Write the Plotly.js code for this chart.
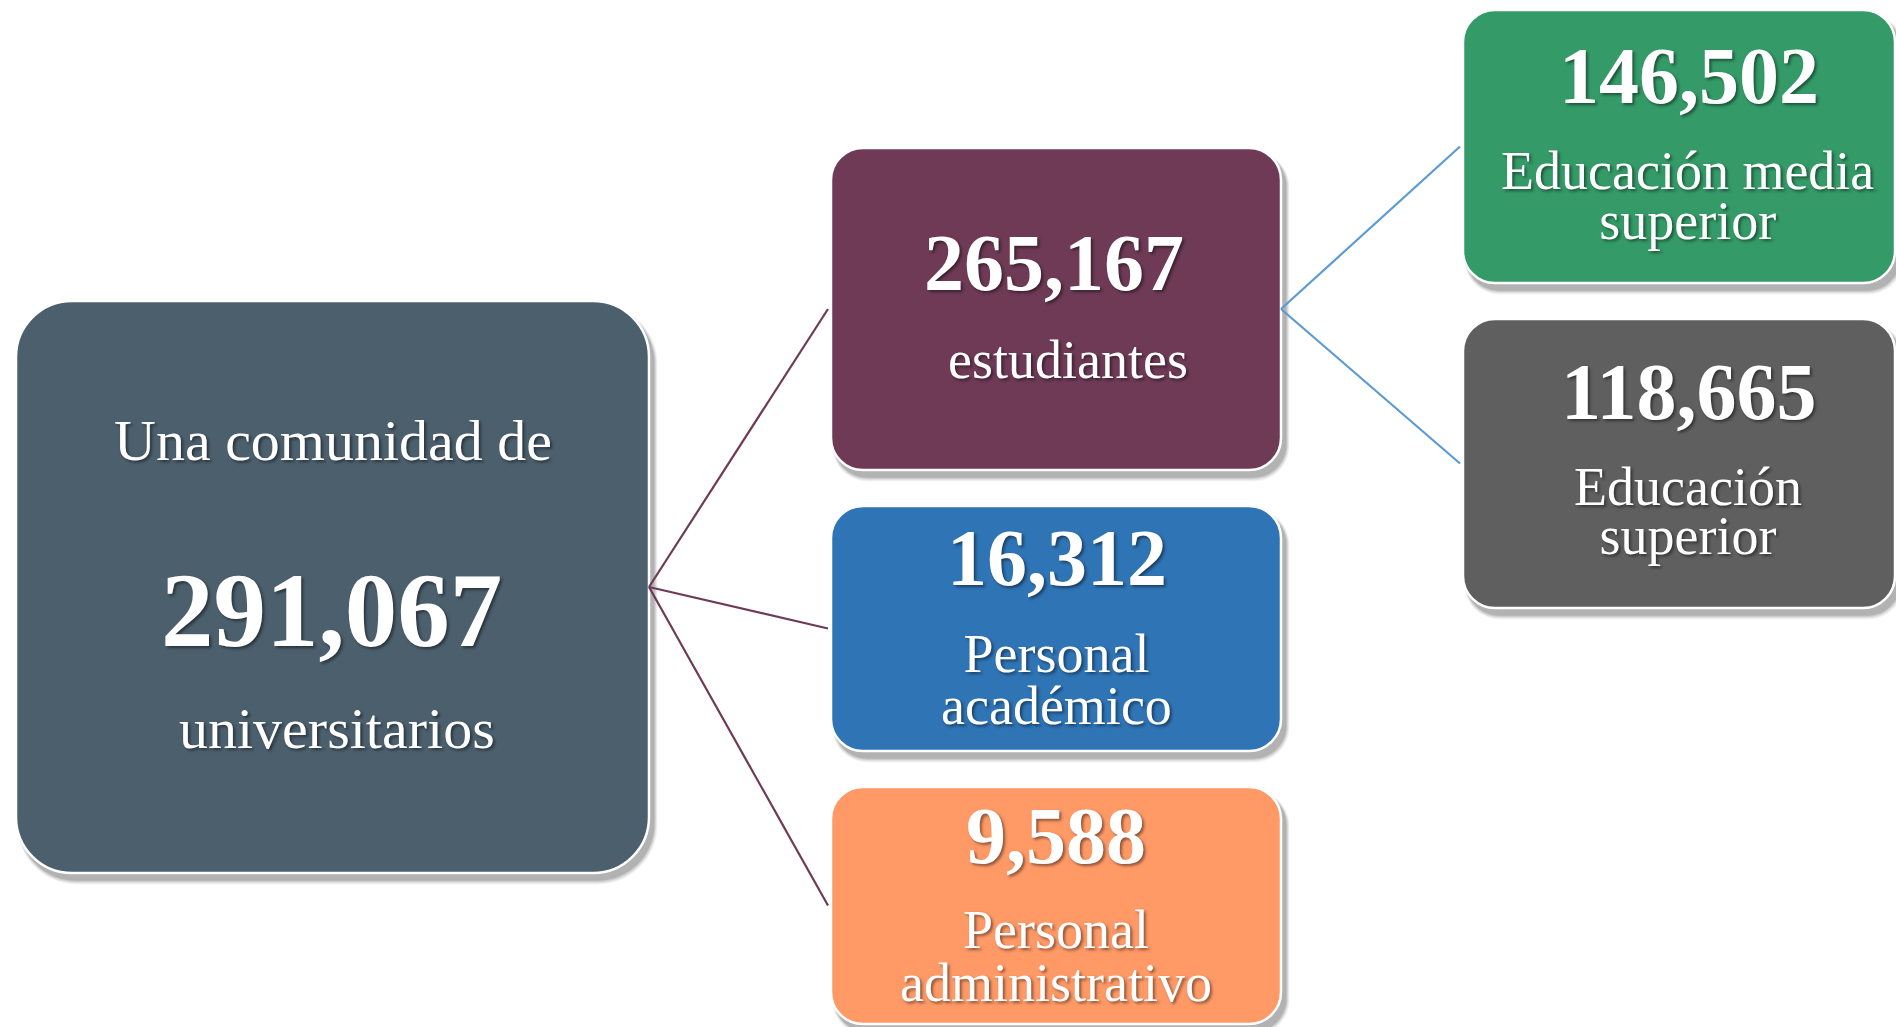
<!DOCTYPE html>
<html>
<head>
<meta charset="utf-8">
<script src="https://cdn.plot.ly/plotly-3.0.1.min.js"></script>
<style>
  html, body { margin: 0; padding: 0; background: #ffffff; }
  #chart { width: 1896px; height: 1027px; }
</style>
</head>
<body>
<div id="chart"></div>
<script>
// ---------------- DATA ----------------
const nodeIds     = ["total", "estudiantes", "academico", "administrativo", "media", "superior"];
const nodeValues  = [291067, 265167, 16312, 9588, 146502, 118665];
const nodeHeaders = [["Una comunidad de"], [], [], [], [], []];
const nodeLabels  = [["universitarios"], ["estudiantes"], ["Personal", "académico"],
                     ["Personal", "administrativo"], ["Educación media", "superior"], ["Educación", "superior"]];
const edgeParents = ["total", "total", "total", "estudiantes", "estudiantes"];
const edgeChildren = ["estudiantes", "academico", "administrativo", "media", "superior"];

// ---------------- LAYOUT / STYLE ----------------
const W = 1896, H = 1027;
const FONT = "Liberation Serif, Times New Roman, serif";
const ASC = 0.891;   // font ascent (em)
const boxGeom = {
  total:          {x0: 16,   y0: 301, x1: 649,  y1: 873, r: 56, fill: "#4B5F6D"},
  estudiantes:    {x0: 831,  y0: 148, x1: 1281, y1: 470, r: 32, fill: "#6E3A56"},
  academico:      {x0: 831,  y0: 506, x1: 1281, y1: 751, r: 32, fill: "#2F74B5"},
  administrativo: {x0: 831,  y0: 787, x1: 1281, y1: 1024, r: 32, fill: "#FF9966"},
  media:          {x0: 1463, y0: 10,  x1: 1895, y1: 283, r: 32, fill: "#349A67"},
  superior:       {x0: 1463, y0: 319, x1: 1895, y1: 608, r: 32, fill: "#5F5F5F"}
};
// text placement: header/value = [center x, baseline y, font size];
// label = [center x, first baseline y, font size, line gap]
const textGeom = {
  total:          {header: [[333, 459, 58]], value: [331, 644, 105], label: [337, 747, 58, 0]},
  estudiantes:    {header: [], value: [1054, 289, 80], label: [1068, 377, 54, 0]},
  academico:      {header: [], value: [1057, 584, 80], label: [1056, 671, 54, 52]},
  administrativo: {header: [], value: [1056, 862, 80], label: [1056, 947, 54, 53]},
  media:          {header: [], value: [1689, 102, 80], label: [1687, 188, 54, 50]},
  superior:       {header: [], value: [1689, 418, 80], label: [1688, 504, 54, 49]}
};
const edgeColor = {total: "#6E3A56", estudiantes: "#5B9BD5"};
const TEXT_SHADOW = "2px 2px 3px rgba(0,0,0,0.45)";

function roundRect(x0, y0, x1, y1, r) {
  const k = 0.5523 * r;
  return `M${x0 + r},${y0} L${x1 - r},${y0} C${x1 - r + k},${y0} ${x1},${y0 + r - k} ${x1},${y0 + r} ` +
         `L${x1},${y1 - r} C${x1},${y1 - r + k} ${x1 - r + k},${y1} ${x1 - r},${y1} ` +
         `L${x0 + r},${y1} C${x0 + r - k},${y1} ${x0},${y1 - r + k} ${x0},${y1 - r} ` +
         `L${x0},${y0 + r} C${x0},${y0 + r - k} ${x0 + r - k},${y0} ${x0 + r},${y0} Z`;
}

const shapes = [];
const annotations = [];

nodeIds.forEach((id, i) => {
  const g = boxGeom[id];
  // soft drop shadow (layered)
  const layers = [[9, 0.05], [7, 0.07], [5, 0.09], [3, 0.12]];
  layers.forEach(([grow, op]) => {
    shapes.push({
      type: "path", xref: "x", yref: "y", layer: "below",
      path: roundRect(g.x0 + 4 - grow * 0.3, g.y0 + 6 - grow * 0.3, g.x1 + 4 + grow * 0.5, g.y1 + 6 + grow * 0.6, g.r + grow * 0.4),
      fillcolor: "rgba(0,0,0," + op + ")", line: {width: 0}
    });
  });
  shapes.push({
    type: "path", xref: "x", yref: "y", layer: "below",
    path: roundRect(g.x0, g.y0, g.x1, g.y1, g.r),
    fillcolor: g.fill, line: {color: "#ffffff", width: 2.5}
  });

  const t = textGeom[id];
  const addLine = (txt, cx, base, size, bold) => {
    annotations.push({
      xref: "x", yref: "y", x: cx, y: base - 0.32 * size,
      xanchor: "center", yanchor: "middle", showarrow: false,
      text: bold ? "<b>" + txt + "</b>" : txt,
      font: {family: FONT, size: size, color: "#ffffff", shadow: TEXT_SHADOW}
    });
  };
  nodeHeaders[i].forEach((txt, j) => addLine(txt, t.header[j][0], t.header[j][1], t.header[j][2], false));
  addLine(nodeValues[i].toLocaleString("en-US"), t.value[0], t.value[1], t.value[2], true);

  const [lx, lb, ls, gap] = t.label;
  if (nodeLabels[i].length === 1) {
    addLine(nodeLabels[i][0], lx, lb, ls, false);
  } else {
    // one text block; the base size sets the (tight) line pitch, the spans set the glyph size
    const baseSize = gap / 1.3;
    annotations.push({
      xref: "x", yref: "y", x: lx, y: lb - ASC * ls - 1,
      xanchor: "center", yanchor: "top", align: "center", showarrow: false,
      text: nodeLabels[i].map(s => `<span style="font-size:${ls}px">${s}</span>`).join("<br>"),
      font: {family: FONT, size: baseSize, color: "#ffffff", shadow: TEXT_SHADOW}
    });
  }
});

// connector lines: parent right-middle -> child left-middle
const traces = edgeParents.map((p, i) => {
  const a = boxGeom[p], b = boxGeom[edgeChildren[i]];
  return {
    type: "scatter", mode: "lines", hoverinfo: "skip", showlegend: false,
    x: [a.x1, b.x0 - 3],
    y: [(a.y0 + a.y1) / 2, (b.y0 + b.y1) / 2],
    line: {color: edgeColor[p], width: 2.2}
  };
});

const layout = {
  width: W, height: H,
  margin: {l: 0, r: 0, t: 0, b: 0, pad: 0},
  paper_bgcolor: "#ffffff", plot_bgcolor: "#ffffff",
  xaxis: {range: [0, W], visible: false, fixedrange: true},
  yaxis: {range: [H, 0], visible: false, fixedrange: true},
  shapes: shapes,
  annotations: annotations,
  showlegend: false
};

Plotly.newPlot("chart", traces, layout, {displayModeBar: false, staticPlot: true});
</script>
</body>
</html>
